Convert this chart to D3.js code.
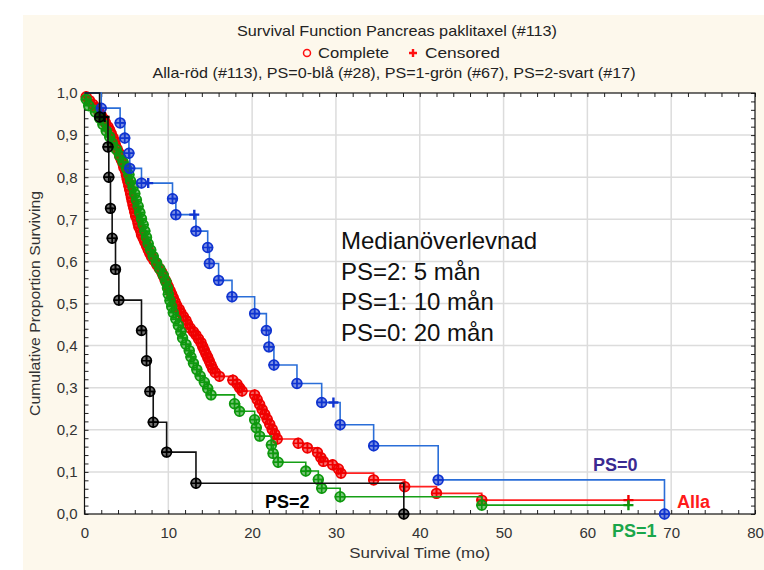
<!DOCTYPE html>
<html>
<head>
<meta charset="utf-8">
<script src="https://cdn.jsdelivr.net/npm/d3@7"></script>
<style>
  body { margin: 0; background: #fff; }
  svg { display: block; font-family: "Liberation Sans", Arial, sans-serif; }
</style>
</head>
<body>
<script>
// ---- data (time in months, cumulative proportion surviving) ----
const xTicks = [0, 10, 20, 30, 40, 50, 60, 70, 80];
const yTicks = [0, 0.1, 0.2, 0.3, 0.4, 0.5, 0.6, 0.7, 0.8, 0.9, 1.0];

const titleText = "Survival Function Pancreas paklitaxel (#113)";
const legendText = ["Complete", "Censored"];
const groupsText = "Alla-röd (#113), PS=0-blå (#28), PS=1-grön (#67), PS=2-svart (#17)";
const medianLines = ["Medianöverlevnad", "PS=2: 5 mån", "PS=1: 10 mån", "PS=0: 20 mån"];

// Alla (red)
const allaSteps = [
  [0.2,.991],[0.6,.982],[1.0,.973],[1.4,.965],[1.7,.956],[2.0,.947],[2.3,.938],[2.5,.929],
  [2.8,.920],[3.0,.912],[3.2,.903],[3.4,.894],[3.6,.885],[3.7,.876],[3.9,.867],[4.1,.858],
  [4.2,.850],[4.4,.841],[4.6,.832],[4.7,.823],[4.9,.814],[5.0,.805],[5.1,.796],[5.2,.788],
  [5.3,.779],[5.4,.770],[5.5,.761],[5.6,.752],[5.7,.743],[5.8,.734],[5.9,.726],[6.0,.717],
  [6.1,.708],[6.3,.699],[6.4,.690],[6.5,.681],[6.7,.673],[6.8,.664],[7.0,.655],[7.2,.646],
  [7.4,.637],[7.6,.628],[7.8,.619],[8.0,.611],[8.3,.602],[8.6,.593],[8.9,.584],[9.2,.575],
  [9.4,.566],[9.6,.557],[9.8,.549],[10.0,.540],[10.2,.531],[10.4,.522],[10.6,.513],[10.8,.504],
  [11.0,.495],[11.3,.486],[11.5,.478],[11.8,.469],[12.1,.460],[12.3,.451],[12.6,.442],[13.0,.433],
  [13.3,.425],[13.6,.416],[13.9,.407],[14.1,.398],[14.3,.389],[14.5,.380],[14.7,.372],[14.9,.363],
  [15.1,.354],[15.3,.345],[15.6,.336],[16.1,.327],[17.7,.318],[18.2,.309],[18.5,.300],[18.8,.292],
  [20.3,.283],[20.6,.272],[20.9,.260],[21.2,.248],[21.5,.237],[21.8,.225],[22.1,.213],[22.4,.201],
  [22.7,.190],[23.0,.178],[25.5,.168],[26.6,.157],[27.8,.146],[28.2,.134],[28.5,.125],[29.6,.117],
  [30.3,.107],[30.6,.097],[34.5,.081],[38.2,.065],[42.0,.049],[47.4,.033]
];
const allaCensored = [[64.9,.033]];
const allaLastTime = 69.2;

// PS=1 (green)
const ps1Steps = [
  [0.2,.985],[0.5,.970],[1.3,.955],[1.8,.940],[2.2,.925],[2.6,.910],[3.0,.896],[3.3,.881],
  [3.8,.866],[4.2,.851],[4.6,.836],[5.0,.821],[5.3,.806],[5.5,.791],[5.8,.776],[6.0,.761],
  [6.2,.746],[6.4,.731],[6.6,.716],[6.8,.701],[7.0,.687],[7.2,.672],[7.4,.657],[7.6,.642],
  [7.9,.627],[8.2,.612],[8.6,.597],[9.0,.582],[9.4,.567],[9.7,.552],[9.9,.537],[10.0,.522],
  [10.2,.507],[10.4,.493],[10.6,.478],[10.9,.463],[11.2,.448],[11.5,.433],[11.7,.418],[12.1,.403],
  [12.5,.388],[12.7,.373],[13.0,.358],[13.4,.343],[13.8,.328],[14.3,.313],[14.7,.298],[15.1,.283],
  [17.9,.262],[18.5,.244],[20.3,.224],[20.5,.205],[20.9,.185],[22.3,.164],[22.5,.144],[23.1,.123],
  [26.4,.102],[27.9,.082],[28.3,.061],[30.5,.041],[47.4,.021]
];
const ps1Censored = [[64.9,.021]];
const ps1LastTime = 64.9;

// PS=0 (blue)
const ps0Steps = [
  [2.0,.964],[4.25,.929],[4.8,.893],[5.3,.857],[5.4,.821],[6.8,.786],[10.5,.749],[10.9,.711],
  [13.3,.672],[14.7,.633],[14.9,.595],[16.0,.555],[17.6,.516],[20.3,.476],[21.7,.436],[22.0,.397],
  [22.6,.354],[25.35,.310],[28.3,.265],[30.5,.212],[34.5,.162],[42.2,.081],[69.2,0]
];
const ps0Censored = [[7.6,.786],[13.1,.711],[29.7,.265]];
const ps0LastTime = 69.2;

// PS=2 (black)
const ps2Steps = [
  [1.8,.943],[2.8,.872],[2.9,.800],[3.1,.726],[3.3,.655],[3.7,.581],[4.1,.508],[6.8,.436],
  [7.4,.364],[7.8,.291],[8.2,.218],[9.8,.147],[13.3,.073],[38.1,0]
];
const ps2Censored = [[2.4,.943]];
const ps2LastTime = 38.1;

// ---- layout ----
const W = 764, H = 570;
const margin = { top: 93, right: 9, bottom: 56, left: 84.5 };
const width = W - margin.left - margin.right;
const height = H - margin.top - margin.bottom;

const svg = d3.select("body").append("svg")
  .attr("width", W)
  .attr("height", H);

// cream panel behind everything
svg.append("rect")
  .attr("x", 23).attr("y", 15)
  .attr("width", W - 23).attr("height", H - 15)
  .attr("fill", "#fdf8ec");

const g = svg.append("g")
  .attr("transform", `translate(${margin.left}, ${margin.top})`);

g.append("rect")
  .attr("width", width).attr("height", height)
  .attr("fill", "#fff");

const x = d3.scaleLinear().domain([0, 80]).range([0, width]);
const y = d3.scaleLinear().domain([0, 1]).range([height, 0]);

// grid
g.append("g").selectAll("line")
  .data(xTicks.slice(1, -1))
  .enter().append("line")
  .attr("x1", d => x(d)).attr("x2", d => x(d))
  .attr("y1", 0).attr("y2", height)
  .attr("stroke", "#dcdcdc").attr("stroke-width", 1.5);
g.append("g").selectAll("line")
  .data(yTicks.slice(1, -1))
  .enter().append("line")
  .attr("y1", d => y(d)).attr("y2", d => y(d))
  .attr("x1", 0).attr("x2", width)
  .attr("stroke", "#dcdcdc").attr("stroke-width", 1.5);

// axes (ticks point inwards, minor ticks every 2 mo / 0.02)
const comma = d3.formatLocale({ decimal: ",", thousands: " ", grouping: [3], currency: ["", ""] }).format(".1f");
const xMinor = d3.range(0, 80.01, 2);
const yMinor = d3.range(0, 1.001, 0.02);

const xAxis = d3.axisBottom(x).tickValues(xMinor).tickSizeInner(-4).tickSizeOuter(0).tickPadding(13)
  .tickFormat(d => xTicks.includes(Math.round(d)) && d % 10 === 0 ? d : "");
const yAxis = d3.axisLeft(y).tickValues(yMinor).tickSizeInner(-4).tickSizeOuter(0).tickPadding(7)
  .tickFormat(d => (Math.round(d * 100) % 10 === 0) ? comma(d) : "");

const gx = g.append("g").attr("transform", `translate(0, ${height})`).call(xAxis);
const gy = g.append("g").call(yAxis);
g.append("g").call(d3.axisTop(x).tickValues(xMinor).tickSizeInner(-4).tickSizeOuter(0).tickFormat(""));
g.append("g").attr("transform", `translate(${width}, 0)`)
  .call(d3.axisRight(y).tickValues(yMinor).tickSizeInner(-4).tickSizeOuter(0).tickFormat(""));

g.selectAll(".domain").remove();
g.selectAll(".tick line").attr("stroke", "#222");
[gx, gy].forEach(a => a.selectAll("text")
  .attr("font-size", 15).attr("fill", "#333")
  .attr("font-family", '"Liberation Sans", Arial, sans-serif'));

// frame
g.append("rect")
  .attr("width", width).attr("height", height)
  .attr("fill", "none").attr("stroke", "#111").attr("stroke-width", 1.2);

// axis titles
svg.append("text")
  .attr("x", margin.left + x(40)).attr("y", 558)
  .attr("text-anchor", "middle")
  .attr("font-size", 14.5).attr("fill", "#333")
  .attr("textLength", 141).attr("lengthAdjust", "spacingAndGlyphs")
  .text("Survival Time (mo)");
svg.append("text")
  .attr("transform", `translate(40, ${margin.top + y(0.5)}) rotate(-90)`)
  .attr("text-anchor", "middle")
  .attr("font-size", 14.5).attr("fill", "#333")
  .attr("textLength", 225).attr("lengthAdjust", "spacingAndGlyphs")
  .text("Cumulative Proportion Surviving");

// header
svg.append("text")
  .attr("x", 397).attr("y", 36)
  .attr("text-anchor", "middle")
  .attr("font-size", 15).attr("fill", "#222")
  .attr("textLength", 320).attr("lengthAdjust", "spacingAndGlyphs")
  .text(titleText);
svg.append("text")
  .attr("x", 394).attr("y", 78)
  .attr("text-anchor", "middle")
  .attr("font-size", 15).attr("fill", "#222")
  .attr("textLength", 483).attr("lengthAdjust", "spacingAndGlyphs")
  .text(groupsText);

// legend line: complete (circle) + censored (plus)
const leg = svg.append("g");
leg.append("circle").attr("cx", 307).attr("cy", 53).attr("r", 3.5)
  .attr("fill", "none").attr("stroke", "#ff1010").attr("stroke-width", 1.5);
leg.append("text").attr("x", 318).attr("y", 58)
  .attr("font-size", 15).attr("fill", "#222")
  .attr("textLength", 71).attr("lengthAdjust", "spacingAndGlyphs")
  .text(legendText[0]);
leg.append("path").attr("d", "M409,53h8M413,49v8")
  .attr("stroke", "#ff1010").attr("stroke-width", 2.4);
leg.append("text").attr("x", 425).attr("y", 58)
  .attr("font-size", 15).attr("fill", "#222")
  .attr("textLength", 75).attr("lengthAdjust", "spacingAndGlyphs")
  .text(legendText[1]);

// ---- survival curves ----
const stepLine = d3.line()
  .x(d => x(d[0]))
  .y(d => y(d[1]))
  .curve(d3.curveStepAfter);

const series = [
  { steps: allaSteps, censored: allaCensored, last: allaLastTime, line: "#ff2020", mark: "#f00000" },
  { steps: ps1Steps, censored: ps1Censored, last: ps1LastTime, line: "#16a016", mark: "#0e980e" },
  { steps: ps0Steps, censored: ps0Censored, last: ps0LastTime, line: "#2a6ed8", mark: "#1034d0" },
  { steps: ps2Steps, censored: ps2Censored, last: ps2LastTime, line: "#111", mark: "#000" }
];

const curves = g.append("g");
series.forEach(s => {
  const pts = [[0, 1]].concat(s.steps);
  const lastS = pts[pts.length - 1][1];
  if (s.last > pts[pts.length - 1][0]) pts.push([s.last, lastS]);

  curves.append("path")
    .attr("d", stepLine(pts))
    .attr("fill", "none")
    .attr("stroke", s.line)
    .attr("stroke-width", 1.6);

  // complete observations: circle with a cross
  const ev = curves.append("g").selectAll("g")
    .data(s.steps)
    .enter().append("g")
    .attr("transform", d => `translate(${x(d[0])}, ${y(d[1])})`);
  ev.append("circle").attr("r", 4.8)
    .attr("fill", s.mark).attr("fill-opacity", 0.55)
    .attr("stroke", s.mark).attr("stroke-width", 1.8);
  ev.append("path").attr("d", "M-5.5,0h11M0,-5.5v11")
    .attr("stroke", s.mark).attr("stroke-width", 1.7);

  // censored observations: plus
  curves.append("g").selectAll("path")
    .data(s.censored)
    .enter().append("path")
    .attr("d", d => `M${x(d[0]) - 5},${y(d[1])}h10M${x(d[0])},${y(d[1]) - 5}v10`)
    .attr("stroke", s.mark).attr("stroke-width", 2.4);
});

// ---- annotations ----
const med = g.append("g").attr("font-size", 24).attr("fill", "#111");
medianLines.forEach((t, i) => {
  med.append("text")
    .attr("x", 341 - margin.left)
    .attr("y", 249 - margin.top + i * 30.7)
    .text(t);
});

const labels = [
  { text: "PS=2", x: 265, y: 508, color: "#000" },
  { text: "PS=0", x: 593, y: 471, color: "#3a2a92" },
  { text: "Alla", x: 677, y: 508, color: "#ff1a1a" },
  { text: "PS=1", x: 612, y: 537, color: "#1aa64a" }
];
svg.append("g").selectAll("text")
  .data(labels)
  .enter().append("text")
  .attr("x", d => d.x).attr("y", d => d.y)
  .attr("font-size", 18).attr("font-weight", "bold")
  .attr("fill", d => d.color)
  .text(d => d.text);
</script>
</body>
</html>
